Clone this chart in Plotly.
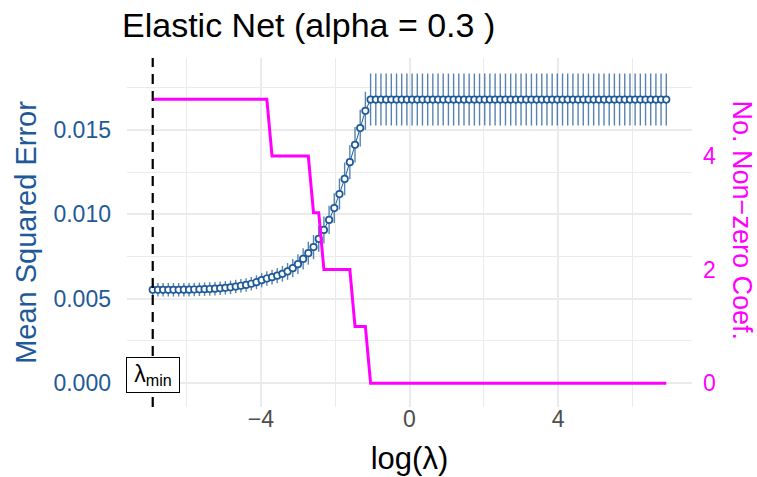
import plotly.graph_objects as go

# log(lambda) grid (100 values)
log_lambda = [
    -6.908, -6.768, -6.629, -6.489, -6.350, -6.210, -6.070, -5.931, -5.791, -5.652,
    -5.512, -5.373, -5.233, -5.094, -4.954, -4.815, -4.675, -4.536, -4.396, -4.256,
    -4.117, -3.977, -3.838, -3.698, -3.559, -3.419, -3.280, -3.140, -3.001, -2.861,
    -2.722, -2.582, -2.442, -2.303, -2.163, -2.024, -1.884, -1.745, -1.605, -1.466,
    -1.326, -1.187, -1.047, -0.907, -0.768, -0.628, -0.489, -0.349, -0.210, -0.070,
    0.070, 0.210, 0.349, 0.489, 0.628, 0.768, 0.907, 1.047, 1.187, 1.326,
    1.466, 1.605, 1.745, 1.884, 2.024, 2.163, 2.303, 2.442, 2.582, 2.722,
    2.861, 3.001, 3.140, 3.280, 3.419, 3.559, 3.698, 3.838, 3.977, 4.117,
    4.256, 4.396, 4.536, 4.675, 4.815, 4.954, 5.094, 5.233, 5.373, 5.512,
    5.652, 5.791, 5.931, 6.070, 6.210, 6.350, 6.489, 6.629, 6.768, 6.908,
]

mse = [
    0.00553, 0.00553, 0.00553, 0.00553, 0.00553, 0.00553, 0.00554, 0.00554, 0.00555, 0.00556,
    0.00557, 0.00558, 0.00560, 0.00562, 0.00565, 0.00568, 0.00572, 0.00577, 0.00582, 0.00589,
    0.00598, 0.00610, 0.00620, 0.00628, 0.00637, 0.00648, 0.00662, 0.00681, 0.00705, 0.00736,
    0.00770, 0.00806, 0.00855, 0.00908, 0.00967, 0.01037, 0.01120, 0.01210, 0.01309, 0.01412,
    0.01511, 0.01613, 0.01680, 0.01680, 0.01680, 0.01680, 0.01680, 0.01680, 0.01680, 0.01680,
    0.01680, 0.01680, 0.01680, 0.01680, 0.01680, 0.01680, 0.01680, 0.01680, 0.01680, 0.01680,
    0.01680, 0.01680, 0.01680, 0.01680, 0.01680, 0.01680, 0.01680, 0.01680, 0.01680, 0.01680,
    0.01680, 0.01680, 0.01680, 0.01680, 0.01680, 0.01680, 0.01680, 0.01680, 0.01680, 0.01680,
    0.01680, 0.01680, 0.01680, 0.01680, 0.01680, 0.01680, 0.01680, 0.01680, 0.01680, 0.01680,
    0.01680, 0.01680, 0.01680, 0.01680, 0.01680, 0.01680, 0.01680, 0.01680, 0.01680, 0.01680,
]

mse_se = [
    0.00040, 0.00040, 0.00040, 0.00040, 0.00040, 0.00040, 0.00040, 0.00040, 0.00040, 0.00040,
    0.00040, 0.00040, 0.00040, 0.00040, 0.00040, 0.00040, 0.00040, 0.00040, 0.00040, 0.00040,
    0.00041, 0.00042, 0.00043, 0.00044, 0.00045, 0.00047, 0.00050, 0.00054, 0.00058, 0.00063,
    0.00068, 0.00072, 0.00076, 0.00080, 0.00084, 0.00088, 0.00092, 0.00097, 0.00101, 0.00105,
    0.00109, 0.00113, 0.00154, 0.00154, 0.00154, 0.00154, 0.00154, 0.00154, 0.00154, 0.00154,
    0.00154, 0.00154, 0.00154, 0.00154, 0.00154, 0.00154, 0.00154, 0.00154, 0.00154, 0.00154,
    0.00154, 0.00154, 0.00154, 0.00154, 0.00154, 0.00154, 0.00154, 0.00154, 0.00154, 0.00154,
    0.00154, 0.00154, 0.00154, 0.00154, 0.00154, 0.00154, 0.00154, 0.00154, 0.00154, 0.00154,
    0.00154, 0.00154, 0.00154, 0.00154, 0.00154, 0.00154, 0.00154, 0.00154, 0.00154, 0.00154,
    0.00154, 0.00154, 0.00154, 0.00154, 0.00154, 0.00154, 0.00154, 0.00154, 0.00154, 0.00154,
]

n_nonzero = [
    5, 5, 5, 5, 5, 5, 5, 5, 5, 5,
    5, 5, 5, 5, 5, 5, 5, 5, 5, 5,
    5, 5, 5, 4, 4, 4, 4, 4, 4, 4,
    4, 3, 3, 2, 2, 2, 2, 2, 2, 1,
    1, 1, 0, 0, 0, 0, 0, 0, 0, 0,
    0, 0, 0, 0, 0, 0, 0, 0, 0, 0,
    0, 0, 0, 0, 0, 0, 0, 0, 0, 0,
    0, 0, 0, 0, 0, 0, 0, 0, 0, 0,
    0, 0, 0, 0, 0, 0, 0, 0, 0, 0,
    0, 0, 0, 0, 0, 0, 0, 0, 0, 0,
]

lambda_min_log = -6.908
x_ticks = [-4, 0, 4]
x_minor = [-6, -2, 2, 6]
y_ticks = [0.0, 0.005, 0.010, 0.015]
y_minor = [0.0025, 0.0075, 0.0125, 0.0175]
y2_ticks = [0, 2, 4]

BLUE = "#1F5A98"
MAGENTA = "#FF00FF"
GRID = "#EBEBEB"
FONT = "Liberation Sans, Arial, sans-serif"

fig = go.Figure()

fig.add_trace(go.Scatter(
    x=log_lambda, y=mse, mode="lines+markers",
    line=dict(color=BLUE, width=1),
    marker=dict(symbol="circle", size=6.5, color="white", line=dict(color=BLUE, width=1.7)),
    error_y=dict(type="data", array=mse_se, visible=True, width=0,
                 color="rgba(31,90,152,0.75)", thickness=1.4),
    showlegend=False, yaxis="y",
))

fig.add_trace(go.Scatter(
    x=log_lambda, y=n_nonzero, mode="lines",
    line=dict(color=MAGENTA, width=3),
    showlegend=False, yaxis="y2",
))

fig.add_shape(type="line", xref="x", yref="paper", x0=lambda_min_log, x1=lambda_min_log,
              y0=0, y1=1, line=dict(color="black", width=2.2, dash="10px,7px"), layer="above")

fig.add_annotation(x=lambda_min_log, y=0.0005, xref="x", yref="y",
                   text="λ<sub>min</sub>", showarrow=False,
                   font=dict(family=FONT, size=23, color="black"),
                   width=46, height=28, align="center", valign="middle",
                   bgcolor="white", bordercolor="black", borderwidth=1, borderpad=3)

fig.add_annotation(x=1.088, y=0.535, xref="paper", yref="paper",
                   text="No. Non−zero Coef.", textangle=90, showarrow=False,
                   font=dict(family=FONT, size=27, color=MAGENTA),
                   xanchor="center", yanchor="middle")

fig.update_layout(
    width=757, height=477,
    margin=dict(l=127, r=65, t=58, b=70, autoexpand=False),
    plot_bgcolor="white", paper_bgcolor="white",
    font=dict(family=FONT),
    title=dict(text="Elastic Net (alpha = 0.3 )", font=dict(family=FONT, size=34, color="black"),
               xref="container", x=122 / 757, xanchor="left",
               yref="container", y=1 - 25 / 477, yanchor="middle"),
    xaxis=dict(range=[-7.6, 7.6], tickvals=x_ticks, showgrid=True, gridcolor=GRID, gridwidth=1.6,
               zeroline=False, showline=False, ticks="",
               tickfont=dict(family=FONT, size=23, color="#4D4D4D"),
               ticklabelstandoff=-4,
               minor=dict(tickvals=x_minor, showgrid=True, gridcolor=GRID, gridwidth=0.8),
               title=dict(text="log(λ)", font=dict(family=FONT, size=31, color="black"), standoff=16)),
    yaxis=dict(range=[-0.00141, 0.01926], tickvals=y_ticks, tickformat=".3f",
               showgrid=True, gridcolor=GRID, gridwidth=1.6, zeroline=False, showline=False, ticks="",
               tickfont=dict(family=FONT, size=23, color=BLUE),
               ticklabelstandoff=15,
               minor=dict(tickvals=y_minor, showgrid=True, gridcolor=GRID, gridwidth=0.8),
               title=dict(text="Mean Squared Error", font=dict(family=FONT, size=29, color=BLUE), standoff=8)),
    yaxis2=dict(range=[-0.419, 5.725], overlaying="y", side="right", tickvals=y2_ticks,
                showgrid=False, zeroline=False, showline=False, ticks="",
                tickfont=dict(family=FONT, size=23, color=MAGENTA),
                ticklabelstandoff=10),
)

fig.write_html("out.html", config={"displayModeBar": False},
               post_script="document.body.style.margin='0';document.body.style.overflow='hidden';")
